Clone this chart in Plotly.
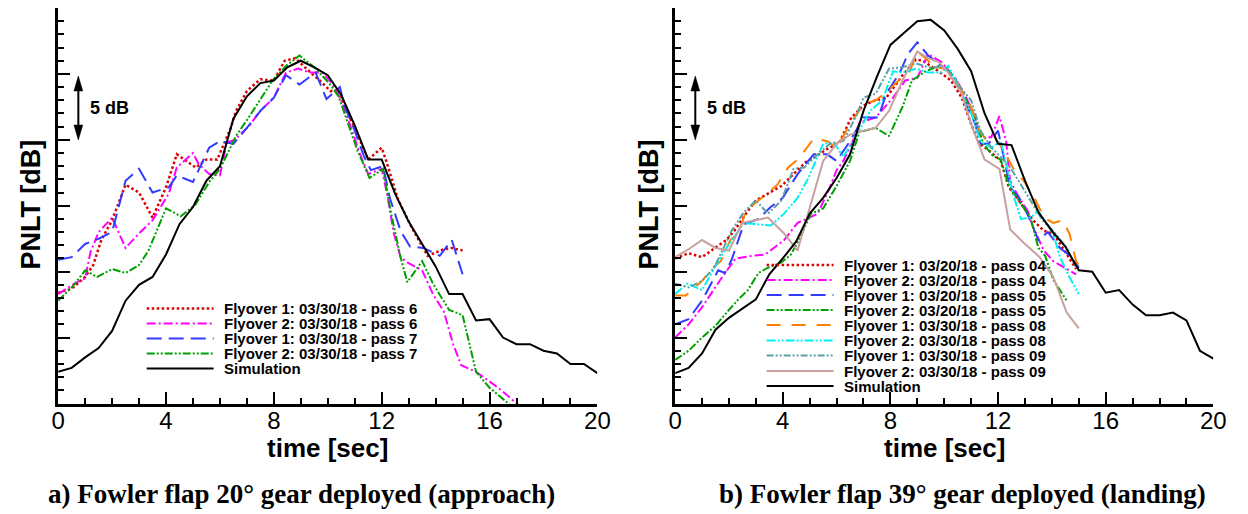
import plotly.graph_objects as go

# ---------------- data ----------------
# Panel a) Fowler flap 20 deg, gear deployed (approach)
t_sim = [0.0, 0.5, 1.0, 1.5, 2.0, 2.5, 3.0, 3.5, 4.0, 4.5, 5.0, 5.5, 6.0, 6.5, 7.0, 7.5,
         8.0, 8.5, 9.0, 9.5, 10.0, 10.5, 11.0, 11.5, 12.0, 12.5, 13.0, 13.5, 14.0, 14.5,
         15.0, 15.5, 16.0, 16.5, 17.0, 17.5, 18.0, 18.5, 19.0, 19.5, 20.0]
sim_a = [72.4, 72.7, 73.5, 74.2, 75.5, 77.8, 79.0, 79.6, 81.3, 83.6, 84.9, 86.9, 88.0, 91.6,
         93.3, 94.3, 94.5, 95.5, 96.0, 95.5, 94.9, 93.4, 91.1, 88.5, 88.5, 85.9, 83.8, 82.1,
         80.4, 78.3, 78.3, 76.3, 76.4, 75.0, 74.5, 74.5, 74.0, 73.8, 73.0, 73.0, 72.3]

a_f1p6_t = [0.0, 0.5, 1.0, 1.3, 1.6, 2.0, 2.5, 3.0, 3.5, 4.0, 4.4, 4.7, 5.1, 5.5, 5.9, 6.4,
            6.6, 7.0, 7.5, 8.0, 8.4, 8.8, 9.2, 9.7, 10.1, 10.4, 10.6, 11.0, 11.5, 12.0, 12.2,
            12.6, 13.1, 13.7, 14.3, 14.6, 15.0]
a_f1p6 = [78.4, 78.7, 79.6, 80.5, 82.4, 83.9, 86.6, 86.0, 84.1, 86.4, 88.9, 88.5, 87.9, 88.5,
          88.5, 90.9, 92.2, 93.7, 94.6, 94.5, 96.0, 96.2, 95.4, 94.5, 93.7, 93.8, 92.7, 90.9,
          88.5, 89.4, 88.2, 85.5, 83.4, 81.2, 81.7, 81.8, 81.6]

a_f2p6_t = [0.0, 0.6, 1.0, 1.2, 1.5, 2.0, 2.5, 3.0, 3.5, 4.1, 4.4, 5.0, 5.2, 5.6, 6.0, 6.25,
            6.55, 7.1, 7.5, 8.0, 8.45, 8.9, 9.35, 9.8, 10.15, 10.5, 10.9, 11.2, 11.5, 12.0,
            12.2, 12.45, 12.7, 12.95, 13.5, 13.9, 14.3, 14.65, 14.95, 15.5, 16.05, 16.5, 17.0,
            17.5]
a_f2p6 = [78.3, 79.1, 79.5, 81.5, 83.0, 84.1, 81.8, 82.9, 83.9, 85.9, 87.9, 89.0, 88.2, 87.4,
          87.3, 89.8, 90.0, 91.1, 92.2, 93.2, 95.1, 95.4, 95.1, 95.1, 94.3, 93.0, 90.7, 88.9,
          87.4, 87.8, 85.9, 82.9, 81.1, 80.7, 80.1, 78.3, 77.0, 74.5, 72.9, 72.4, 71.6, 70.9,
          70.0, 69.4]

a_f1p7_t = [0.0, 0.5, 1.0, 1.5, 2.0, 2.5, 3.0, 3.5, 4.1, 4.4, 5.0, 5.6, 6.0, 6.5, 7.0, 7.5,
            8.0, 8.45, 8.95, 9.55, 9.95, 10.45, 10.6, 11.0, 11.35, 11.6, 12.05, 12.3, 12.7,
            13.05, 13.55, 14.15, 14.6, 15.0]
a_f1p7 = [80.9, 81.1, 82.1, 82.5, 83.0, 86.9, 87.8, 86.0, 86.4, 87.3, 86.8, 89.4, 89.9, 89.7,
          90.9, 92.2, 93.2, 94.9, 94.2, 95.1, 93.1, 94.0, 92.7, 90.7, 88.7, 87.7, 88.0, 85.6,
          83.1, 81.9, 81.8, 81.2, 82.4, 79.8]

a_f2p7_t = [0.0, 0.55, 1.0, 1.45, 2.0, 2.5, 3.0, 3.35, 4.0, 4.55, 5.1, 5.6, 6.0, 6.6, 7.1,
            7.55, 7.95, 8.45, 8.95, 9.5, 10.05, 10.4, 10.75, 11.1, 11.55, 12.05, 12.35, 12.7,
            12.95, 13.5, 13.9, 14.5, 15.0, 15.5, 16.0, 16.7, 17.2]
a_f2p7 = [77.8, 78.9, 80.1, 79.6, 80.2, 79.9, 80.5, 81.6, 84.8, 84.2, 85.1, 86.8, 87.8, 90.3,
          91.8, 93.2, 94.5, 95.6, 96.4, 95.5, 94.3, 93.3, 91.2, 89.2, 87.1, 87.8, 84.4, 81.1,
          79.2, 80.8, 79.1, 77.1, 76.7, 72.4, 71.2, 70.0, 69.4]

# Panel b) Fowler flap 39 deg, gear deployed (landing)
sim_b = [72.3, 72.7, 73.8, 75.6, 76.5, 77.2, 77.9, 79.8, 81.0, 82.3, 84.4, 85.6, 87.1, 88.9,
         92.2, 94.8, 97.2, 98.1, 99.0, 99.1, 98.3, 96.9, 95.2, 92.0, 89.7, 89.6, 86.9, 84.5,
         83.1, 81.9, 80.1, 80.0, 78.4, 78.6, 77.5, 76.7, 76.7, 76.9, 76.3, 74.0, 73.4]

b_f1p04_t = [0.0, 0.5, 1.0, 1.5, 1.9, 2.2, 2.7, 3.0, 3.45, 3.95, 4.4, 4.85, 5.2, 5.65, 6.1,
             6.55, 7.0, 7.45, 7.85, 8.2, 8.45, 8.95, 9.2, 9.8, 10.25, 10.65, 11.0, 11.3, 11.6,
             12.1, 12.4, 12.7, 12.95, 13.3, 13.7, 14.05, 14.5, 14.9]
b_f1p04 = [81.0, 81.4, 81.1, 81.8, 82.4, 83.1, 84.6, 85.4, 85.9, 86.5, 87.4, 88.3, 88.7, 89.3,
           89.8, 91.7, 92.6, 93.0, 93.2, 94.2, 94.9, 96.1, 96.0, 95.2, 94.5, 93.2, 91.2, 89.7,
           89.3, 88.4, 86.4, 85.6, 84.9, 83.9, 83.1, 82.9, 81.5, 80.2]

b_f2p04_t = [0.0, 0.5, 1.0, 1.75, 2.25, 2.85, 3.35, 4.05, 4.55, 4.9, 5.3, 5.75, 6.0, 6.25,
             6.6, 6.85, 7.45, 8.1, 8.55, 9.0, 9.4, 9.9, 10.4, 10.75, 11.15, 11.35, 11.75,
             12.05, 12.3, 12.45, 12.7, 13.1, 13.3, 13.7, 14.05, 14.9]
b_f2p04 = [75.0, 76.0, 77.3, 79.6, 81.0, 81.2, 81.3, 82.4, 83.7, 84.0, 84.4, 86.4, 87.7, 88.4,
           89.9, 91.3, 91.7, 93.2, 94.5, 94.7, 96.5, 95.9, 94.7, 93.5, 91.7, 90.2, 90.2, 91.8,
           89.9, 86.9, 85.9, 84.6, 83.4, 81.6, 80.8, 79.8]

b_f1p05_t = [0.0, 0.5, 1.0, 1.4, 1.6, 1.85, 2.1, 2.55, 3.1, 3.55, 4.0, 4.55, 5.15, 5.65, 6.0,
             6.5, 7.0, 7.55, 7.85, 8.35, 8.65, 9.0, 9.4, 9.9, 10.4, 10.75, 11.15, 11.35, 11.65,
             12.0, 12.2, 12.45, 12.85, 13.15, 13.5, 13.85, 14.3, 14.8, 15.0]
b_f1p05 = [76.0, 76.4, 77.8, 79.3, 80.1, 79.9, 80.9, 83.6, 84.0, 84.9, 85.6, 87.4, 88.9, 88.9,
           88.4, 89.9, 91.7, 91.7, 93.5, 95.1, 96.5, 97.4, 96.4, 95.6, 94.7, 93.0, 91.2, 89.7,
           89.7, 90.7, 88.7, 86.4, 85.4, 84.1, 82.4, 83.0, 81.8, 81.0, 80.3]

b_f2p05_t = [0.0, 0.5, 1.0, 1.5, 2.0, 2.35, 2.7, 3.1, 3.45, 3.95, 4.3, 4.6, 5.05, 5.5, 6.0,
             6.5, 6.85, 7.45, 7.95, 8.45, 8.8, 9.3, 9.8, 10.05, 10.4, 10.75, 11.15, 11.45, 11.8,
             12.1, 12.4, 12.7, 13.2, 13.5, 13.75, 14.05, 14.55]
b_f2p05 = [73.3, 74.0, 75.0, 75.9, 77.1, 77.9, 78.6, 79.9, 80.3, 80.7, 81.3, 82.4, 84.4, 84.8,
           86.5, 88.4, 90.6, 90.9, 90.3, 92.5, 94.5, 95.2, 95.6, 95.5, 94.6, 93.3, 91.7, 89.7,
           88.8, 88.5, 86.5, 85.6, 84.1, 81.8, 81.2, 79.4, 77.8]

b_f1p08_t = [0.0, 0.4, 1.0, 1.4, 1.7, 2.05, 2.35, 2.6, 2.8, 3.8, 4.2, 4.55, 4.9, 5.15, 5.65,
             6.0, 6.5, 7.0, 7.45, 7.85, 8.35, 8.7, 9.0, 9.3, 9.65, 10.05, 10.5, 11.0, 11.3,
             11.6, 11.85, 12.2, 12.6, 12.95, 13.4, 13.7, 14.05, 14.4, 14.65, 14.9, 15.05]
b_f1p08 = [78.2, 78.2, 79.3, 80.3, 80.8, 82.4, 82.9, 84.4, 84.9, 86.6, 87.9, 88.5, 89.4, 90.1,
           89.9, 89.4, 91.2, 92.7, 93.0, 93.6, 94.6, 95.1, 96.7, 96.2, 95.5, 95.4, 94.3, 92.5,
           90.7, 89.9, 90.3, 89.2, 87.7, 86.9, 85.4, 84.1, 83.7, 83.9, 82.9, 80.8, 80.3]

b_f2p08_t = [0.0, 0.45, 1.0, 1.4, 1.75, 2.55, 3.1, 3.55, 4.05, 4.55, 4.95, 5.5, 5.9, 6.25,
             6.75, 7.25, 7.7, 8.1, 8.45, 8.95, 9.4, 9.9, 10.15, 10.5, 11.0, 11.35, 11.75, 12.1,
             12.35, 12.6, 12.85, 13.2, 13.5, 14.05, 14.3, 14.65, 15.0]
b_f2p08 = [78.3, 79.1, 78.6, 80.1, 81.3, 83.7, 83.6, 83.5, 84.4, 85.6, 87.1, 89.7, 89.8, 88.7,
           90.4, 92.2, 93.0, 95.2, 95.1, 95.4, 95.1, 95.1, 95.6, 94.2, 92.0, 89.9, 89.4, 89.9,
           87.7, 85.6, 84.0, 84.1, 84.6, 82.9, 81.1, 79.6, 78.3]

b_f1p09_t = [0.0, 0.5, 1.0, 1.45, 2.1, 2.55, 3.0, 3.45, 3.95, 4.4, 4.8, 5.3, 5.75, 6.25, 6.75,
             7.0, 7.45, 7.95, 8.45, 8.95, 9.4, 10.05, 10.5, 11.0, 11.35, 11.75, 12.1, 12.45,
             12.85, 13.2, 13.65, 14.05, 14.55, 14.9]
b_f1p09 = [79.1, 78.8, 79.3, 80.3, 83.1, 84.5, 85.4, 84.4, 85.4, 87.8, 87.9, 88.9, 89.7, 89.9,
           91.9, 93.2, 93.5, 95.4, 95.5, 95.8, 95.5, 95.5, 94.2, 93.0, 90.7, 89.4, 88.7, 87.9,
           86.6, 85.4, 83.9, 83.1, 81.8, 80.3]

b_f2p09_t = [0.0, 0.5, 1.0, 1.5, 2.0, 2.5, 3.45, 4.05, 4.55, 5.5, 6.0, 6.5, 7.0, 7.45, 7.95,
             8.45, 9.0, 9.4, 9.8, 10.15, 10.65, 11.0, 11.5, 12.05, 12.45, 12.95, 13.55, 14.05,
             14.55, 15.0]
b_f2p09 = [81.1, 81.7, 82.4, 81.8, 81.6, 83.7, 84.1, 82.9, 81.6, 88.4, 89.7, 90.4, 90.7, 90.9,
           92.2, 94.5, 96.7, 96.2, 95.9, 95.1, 93.5, 91.2, 88.5, 87.8, 83.2, 82.2, 81.1, 79.6,
           76.9, 75.7]

x_ticks = [0, 4, 8, 12, 16, 20]
legend_a = ["Flyover 1: 03/30/18 - pass 6", "Flyover 2: 03/30/18 - pass 6",
            "Flyover 1: 03/30/18 - pass 7", "Flyover 2: 03/30/18 - pass 7", "Simulation"]
legend_b = ["Flyover 1: 03/20/18 - pass 04", "Flyover 2: 03/20/18 - pass 04",
            "Flyover 1: 03/20/18 - pass 05", "Flyover 2: 03/20/18 - pass 05",
            "Flyover 1: 03/30/18 - pass 08", "Flyover 2: 03/30/18 - pass 08",
            "Flyover 1: 03/30/18 - pass 09", "Flyover 2: 03/30/18 - pass 09", "Simulation"]
caption_a = "a) Fowler flap 20\u00b0 gear deployed (approach)"
caption_b = "b) Fowler flap 39\u00b0 gear deployed (landing)"

# ---------------- styles ----------------
W, H = 1248, 514
SANS = "Liberation Sans, Arial, sans-serif"
SERIF = "Liberation Serif, Times New Roman, serif"

RED = dict(color="rgb(220,0,0)", width=2.5, dash="2.5px,2.5px")
MAG = dict(color="rgb(255,0,255)", width=2, dash="9px,3px,2px,3px")
BLU = dict(color="rgb(50,60,255)", width=2, dash="15px,7px")
GRN = dict(color="rgb(0,160,0)", width=2, dash="8px,2px,2px,2px,2px,2px")
ORG = dict(color="rgb(255,128,0)", width=2, dash="14px,11px")
CYN = dict(color="rgb(0,240,240)", width=2, dash="9px,2px,2px,2px,2px,2px")
TEA = dict(color="rgb(90,160,165)", width=2, dash="7px,2px,2px,2px,2px,2px")
ROS = dict(color="rgb(200,160,160)", width=2)
BLK = dict(color="black", width=2)

def px(x):
    return x / W

def py(y):
    return 1 - y / H

fig = go.Figure()

series_a = [(a_f1p6_t, a_f1p6, RED), (a_f2p6_t, a_f2p6, MAG), (a_f1p7_t, a_f1p7, BLU),
            (a_f2p7_t, a_f2p7, GRN), (t_sim, sim_a, BLK)]
series_b = [(b_f1p04_t, b_f1p04, RED), (b_f2p04_t, b_f2p04, MAG), (b_f1p05_t, b_f1p05, BLU),
            (b_f2p05_t, b_f2p05, GRN), (b_f1p08_t, b_f1p08, ORG), (b_f2p08_t, b_f2p08, CYN),
            (b_f1p09_t, b_f1p09, TEA), (b_f2p09_t, b_f2p09, ROS), (t_sim, sim_b, BLK)]

for (tx, ty, st), name in zip(series_a, legend_a):
    fig.add_trace(go.Scatter(x=tx, y=ty, mode="lines", line=st, name=name,
                             xaxis="x", yaxis="y", showlegend=False))
for (tx, ty, st), name in zip(series_b, legend_b):
    fig.add_trace(go.Scatter(x=tx, y=ty, mode="lines", line=st, name=name,
                             xaxis="x2", yaxis="y2", showlegend=False))

ydom = [py(403.5), py(8)]

def xax(dom, anchor):
    return dict(domain=dom, anchor=anchor, range=[0, 20], showline=True, linecolor="black",
                linewidth=2.5, ticks="inside", ticklen=12, tickwidth=2, tickcolor="black",
                tickmode="array", tickvals=x_ticks, ticklabelstandoff=-6,
                tickfont=dict(family=SANS, size=24, color="black"),
                minor=dict(dtick=1, tick0=0, ticks="inside", ticklen=6, tickwidth=1.5,
                           tickcolor="black"),
                showgrid=False, zeroline=False, fixedrange=True)

def yax(anchor):
    return dict(domain=ydom, anchor=anchor, range=[70, 100], showline=True, linecolor="black",
                linewidth=2.5, ticks="inside", ticklen=12, tickwidth=2, tickcolor="black",
                dtick=5, tick0=70, showticklabels=False,
                minor=dict(dtick=1, tick0=70, ticks="inside", ticklen=6, tickwidth=1.5,
                           tickcolor="black"),
                showgrid=False, zeroline=False, fixedrange=True)

shapes = []
annotations = []

def add_legend(names, styles, x0, x1, xt, y_rows):
    for name, st, yy in zip(names, styles, y_rows):
        ln = dict(color=st["color"], width=st["width"])
        if "dash" in st:
            ln["dash"] = st["dash"]
        shapes.append(dict(type="line", xref="paper", yref="paper", x0=px(x0), x1=px(x1),
                           y0=py(yy), y1=py(yy), line=ln))
        annotations.append(dict(xref="paper", yref="paper", x=px(xt), y=py(yy),
                                xanchor="left", yanchor="middle", showarrow=False,
                                text="<b>" + name + "</b>",
                                font=dict(family=SANS, size=15, color="black")))

add_legend(legend_a, [s[2] for s in series_a], 142, 210, 219,
           [308.5, 323.5, 338.5, 353.5, 368.5])
add_legend(legend_b, [s[2] for s in series_b], 772, 840, 849,
           [265, 280, 295, 310, 325, 340.5, 355.5, 371, 386])

# 5 dB arrows
for ax0 in (72.5, 699.5):
    shapes.append(dict(type="line", xref="paper", yref="paper", x0=px(ax0), x1=px(ax0),
                       y0=py(88), y1=py(128), line=dict(color="black", width=2)))
    shapes.append(dict(type="path", xref="paper", yref="paper",
                       path=f"M {px(ax0)},{py(76)} L {px(ax0-4.5)},{py(91)} L {px(ax0+4.5)},{py(91)} Z",
                       fillcolor="black", line=dict(color="black", width=0.5)))
    shapes.append(dict(type="path", xref="paper", yref="paper",
                       path=f"M {px(ax0)},{py(140)} L {px(ax0-4.5)},{py(125)} L {px(ax0+4.5)},{py(125)} Z",
                       fillcolor="black", line=dict(color="black", width=0.5)))
    annotations.append(dict(xref="paper", yref="paper", x=px(ax0 + 10), y=py(107.5),
                            xanchor="left", yanchor="middle", showarrow=False,
                            text="<b>5 dB</b>", font=dict(family=SANS, size=18, color="black")))

# axis titles
for cx in (326, 953):
    annotations.append(dict(xref="paper", yref="paper", x=px(cx), y=py(448),
                            xanchor="center", yanchor="middle", showarrow=False,
                            text="<b>time [sec]</b>",
                            font=dict(family=SANS, size=26, color="black")))
for cx in (24, 652):
    annotations.append(dict(xref="paper", yref="paper", x=px(cx), y=py(205),
                            xanchor="center", yanchor="middle", showarrow=False,
                            textangle=-90, text="<b>PNLT [dB]</b>",
                            font=dict(family=SANS, size=27, color="black")))

# captions
annotations.append(dict(xref="paper", yref="paper", x=px(299), y=py(494), xanchor="center",
                        yanchor="middle", showarrow=False, text="<b>" + caption_a + "</b>",
                        font=dict(family=SERIF, size=27, color="black")))
annotations.append(dict(xref="paper", yref="paper", x=px(971), y=py(494), xanchor="center",
                        yanchor="middle", showarrow=False, text="<b>" + caption_b + "</b>",
                        font=dict(family=SERIF, size=27, color="black")))

fig.update_layout(
    width=W, height=H, margin=dict(l=0, r=0, t=0, b=0),
    paper_bgcolor="white", plot_bgcolor="white", showlegend=False,
    xaxis=xax([px(52), px(600)], "y"), yaxis=yax("x"),
    xaxis2=xax([px(679), px(1226)], "y2"), yaxis2=yax("x2"),
    shapes=shapes, annotations=annotations,
)

fig.write_html("out.html")
